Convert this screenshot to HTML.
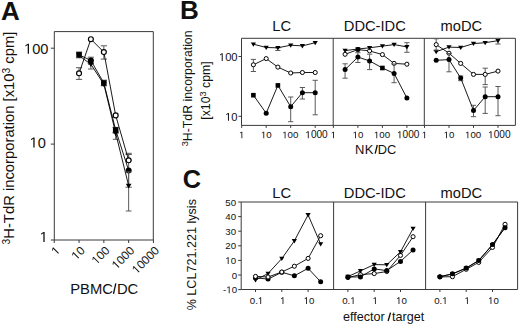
<!DOCTYPE html>
<html><head><meta charset="utf-8"><style>
html,body{margin:0;padding:0;background:#fff;}
svg{display:block;}
text{font-family:"Liberation Sans",sans-serif;fill:#111;}
</style></head><body>
<svg width="520" height="326" viewBox="0 0 520 326">
<rect width="520" height="326" fill="#fff"/>
<path d="M54.3,31.6H153.3V240.0H54.3Z" stroke="#3a3a3a" stroke-width="1" fill="none"/>
<path d="M50.8,240.00H54.3" stroke="#3a3a3a" stroke-width="1"/>
<path d="M515,0L696,0L696,1409L530,1409L197,1180L197,1010L515,1237Z" transform="translate(39.68,242.00) scale(0.007129,-0.007129)" fill="#111"/>
<path d="M50.8,144.10H54.3" stroke="#3a3a3a" stroke-width="1"/>
<path d="M515,0L696,0L696,1409L530,1409L197,1180L197,1010L515,1237Z" transform="translate(29.66,147.50) scale(0.007129,-0.007129)" fill="#111"/><text x="37.78" y="147.50" font-size="14.6">0</text>
<path d="M50.8,48.20H54.3" stroke="#3a3a3a" stroke-width="1"/>
<path d="M515,0L696,0L696,1409L530,1409L197,1180L197,1010L515,1237Z" transform="translate(24.04,53.70) scale(0.007129,-0.007129)" fill="#111"/><text x="32.16" y="53.70" font-size="14.6">00</text>
<path d="M54.25,240.0V243.0" stroke="#3a3a3a" stroke-width="1"/>
<g transform="translate(60.75,251.3) rotate(-45)"><path d="M515,0L696,0L696,1409L530,1409L197,1180L197,1010L515,1237Z" transform="translate(-6.56,0.00) scale(0.005762,-0.005762)" fill="#111"/></g>
<path d="M79.05,240.0V243.0" stroke="#3a3a3a" stroke-width="1"/>
<g transform="translate(85.55,251.3) rotate(-45)"><path d="M515,0L696,0L696,1409L530,1409L197,1180L197,1010L515,1237Z" transform="translate(-13.13,0.00) scale(0.005762,-0.005762)" fill="#111"/><text x="-6.56" y="0.00" font-size="11.8">0</text></g>
<path d="M103.85,240.0V243.0" stroke="#3a3a3a" stroke-width="1"/>
<g transform="translate(110.35,251.3) rotate(-45)"><path d="M515,0L696,0L696,1409L530,1409L197,1180L197,1010L515,1237Z" transform="translate(-19.69,0.00) scale(0.005762,-0.005762)" fill="#111"/><text x="-13.13" y="0.00" font-size="11.8">00</text></g>
<path d="M128.65,240.0V243.0" stroke="#3a3a3a" stroke-width="1"/>
<g transform="translate(135.15,251.3) rotate(-45)"><path d="M515,0L696,0L696,1409L530,1409L197,1180L197,1010L515,1237Z" transform="translate(-26.25,0.00) scale(0.005762,-0.005762)" fill="#111"/><text x="-19.69" y="0.00" font-size="11.8">000</text></g>
<path d="M153.45,240.0V243.0" stroke="#3a3a3a" stroke-width="1"/>
<g transform="translate(159.95,251.3) rotate(-45)"><path d="M515,0L696,0L696,1409L530,1409L197,1180L197,1010L515,1237Z" transform="translate(-32.81,0.00) scale(0.005762,-0.005762)" fill="#111"/><text x="-26.25" y="0.00" font-size="11.8">0000</text></g>
<text x="70.2" y="294.3" font-size="14.8">PBMC</text><text x="138.3" y="294.3" font-size="14.8" text-anchor="end">DC</text><path d="M113.5,293.8L115.8,283.4" stroke="#111" stroke-width="1.35" stroke-linecap="butt"/>
<text x="0" y="0" font-size="14.8" text-anchor="middle" transform="translate(14.3,138) rotate(-90)"><tspan font-size="10.2" dy="-4.6">3</tspan><tspan dy="4.6">H-TdR incorporation [x10</tspan><tspan font-size="10.2" dy="-4.6">3</tspan><tspan dy="4.6"> cpm]</tspan></text>
<path d="M79.05,52.00V57.80M75.93,52.00H82.17M75.93,57.80H82.17" stroke="#5a5a5a" stroke-width="1" fill="none"/>
<path d="M90.88,57.20V63.50M87.76,57.20H94.00M87.76,63.50H94.00" stroke="#5a5a5a" stroke-width="1" fill="none"/>
<path d="M103.85,80.20V85.80M100.73,80.20H106.97M100.73,85.80H106.97" stroke="#5a5a5a" stroke-width="1" fill="none"/>
<path d="M115.68,127.40V132.60M112.56,127.40H118.80M112.56,132.60H118.80" stroke="#5a5a5a" stroke-width="1" fill="none"/>
<path d="M128.65,154.50V187.20M125.53,154.50H131.77M125.53,187.20H131.77" stroke="#5a5a5a" stroke-width="1" fill="none"/>
<path d="M79.05,54.80L90.88,60.50L103.85,83.00L115.68,130.00L128.65,170.40" stroke="#000" stroke-width="0.90" fill="none"/>
<rect x="76.29" y="52.04" width="5.52" height="5.52" fill="#000"/>
<circle cx="90.88" cy="60.50" r="3.00" fill="#000"/>
<rect x="101.09" y="80.24" width="5.52" height="5.52" fill="#000"/>
<rect x="112.92" y="127.24" width="5.52" height="5.52" fill="#000"/>
<circle cx="128.65" cy="170.40" r="3.00" fill="#000"/>
<path d="M90.88,64.30V69.00M88.02,64.30H93.74M88.02,69.00H93.74" stroke="#5a5a5a" stroke-width="1" fill="none"/>
<path d="M115.68,133.20V139.30M112.82,133.20H118.54M112.82,139.30H118.54" stroke="#5a5a5a" stroke-width="1" fill="none"/>
<path d="M128.65,172.00V211.00M125.79,172.00H131.51M125.79,211.00H131.51" stroke="#5a5a5a" stroke-width="1" fill="none"/>
<path d="M79.05,55.60L90.88,64.30L103.85,84.20L115.68,133.20L128.65,185.70" stroke="#000" stroke-width="0.90" fill="none"/>
<path d="M76.19,53.62L81.91,53.62L79.05,58.35Z" fill="#000"/>
<path d="M88.02,62.32L93.74,62.32L90.88,67.05Z" fill="#000"/>
<path d="M100.99,82.22L106.71,82.22L103.85,86.95Z" fill="#000"/>
<path d="M112.82,131.22L118.54,131.22L115.68,135.95Z" fill="#000"/>
<path d="M125.79,183.72L131.51,183.72L128.65,188.45Z" fill="#000"/>
<path d="M79.05,67.70V79.40M75.93,67.70H82.17M75.93,79.40H82.17" stroke="#5a5a5a" stroke-width="1" fill="none"/>
<path d="M103.85,45.80V59.10M100.73,45.80H106.97M100.73,59.10H106.97" stroke="#5a5a5a" stroke-width="1" fill="none"/>
<path d="M128.65,153.30V160.30M125.53,153.30H131.77M125.53,160.30H131.77" stroke="#5a5a5a" stroke-width="1" fill="none"/>
<path d="M79.05,73.30L90.88,39.20L103.85,52.10L115.68,115.40L128.65,160.30" stroke="#000" stroke-width="0.90" fill="none"/>
<circle cx="79.05" cy="73.30" r="2.46" fill="#fff" stroke="#000" stroke-width="1.20"/>
<circle cx="90.88" cy="39.20" r="2.46" fill="#fff" stroke="#000" stroke-width="1.20"/>
<circle cx="103.85" cy="52.10" r="2.46" fill="#fff" stroke="#000" stroke-width="1.20"/>
<circle cx="115.68" cy="115.40" r="2.46" fill="#fff" stroke="#000" stroke-width="1.20"/>
<circle cx="128.65" cy="160.30" r="2.46" fill="#fff" stroke="#000" stroke-width="1.20"/>
<path d="M241.5,38.3H515.4V125.4H241.5Z" stroke="#3a3a3a" stroke-width="1" fill="none"/>
<path d="M333.2,38.3V125.4" stroke="#3a3a3a" stroke-width="1"/>
<path d="M424.3,38.3V125.4" stroke="#3a3a3a" stroke-width="1"/>
<path d="M238.5,116.30H241.5" stroke="#3a3a3a" stroke-width="1"/>
<path d="M515,0L696,0L696,1409L530,1409L197,1180L197,1010L515,1237Z" transform="translate(225.14,120.80) scale(0.005469,-0.005469)" fill="#111"/><text x="231.37" y="120.80" font-size="11.2">0</text>
<path d="M238.5,56.50H241.5" stroke="#3a3a3a" stroke-width="1"/>
<path d="M515,0L696,0L696,1409L530,1409L197,1180L197,1010L515,1237Z" transform="translate(218.91,61.00) scale(0.005469,-0.005469)" fill="#111"/><text x="225.14" y="61.00" font-size="11.2">00</text>
<path d="M241.70,125.4V127.9" stroke="#3a3a3a" stroke-width="1"/>
<path d="M515,0L696,0L696,1409L530,1409L197,1180L197,1010L515,1237Z" transform="translate(239.00,138.30) scale(0.004736,-0.004736)" fill="#111"/>
<path d="M266.20,125.4V127.9" stroke="#3a3a3a" stroke-width="1"/>
<path d="M515,0L696,0L696,1409L530,1409L197,1180L197,1010L515,1237Z" transform="translate(260.91,138.30) scale(0.004736,-0.004736)" fill="#111"/><text x="266.30" y="138.30" font-size="9.7">0</text>
<path d="M290.70,125.4V127.9" stroke="#3a3a3a" stroke-width="1"/>
<path d="M515,0L696,0L696,1409L530,1409L197,1180L197,1010L515,1237Z" transform="translate(282.21,138.30) scale(0.004736,-0.004736)" fill="#111"/><text x="287.60" y="138.30" font-size="9.7">00</text>
<path d="M315.20,125.4V127.9" stroke="#3a3a3a" stroke-width="1"/>
<path d="M515,0L696,0L696,1409L530,1409L197,1180L197,1010L515,1237Z" transform="translate(305.27,138.30) scale(0.004932,-0.004932)" fill="#111"/><text x="310.88" y="138.30" font-size="10.1">000</text>
<text x="281.7" y="31.1" font-size="14.7" text-anchor="middle">LC</text>
<path d="M333.40,125.4V127.9" stroke="#3a3a3a" stroke-width="1"/>
<path d="M515,0L696,0L696,1409L530,1409L197,1180L197,1010L515,1237Z" transform="translate(330.70,138.30) scale(0.004736,-0.004736)" fill="#111"/>
<path d="M357.90,125.4V127.9" stroke="#3a3a3a" stroke-width="1"/>
<path d="M515,0L696,0L696,1409L530,1409L197,1180L197,1010L515,1237Z" transform="translate(352.61,138.30) scale(0.004736,-0.004736)" fill="#111"/><text x="358.00" y="138.30" font-size="9.7">0</text>
<path d="M382.40,125.4V127.9" stroke="#3a3a3a" stroke-width="1"/>
<path d="M515,0L696,0L696,1409L530,1409L197,1180L197,1010L515,1237Z" transform="translate(373.91,138.30) scale(0.004736,-0.004736)" fill="#111"/><text x="379.30" y="138.30" font-size="9.7">00</text>
<path d="M406.90,125.4V127.9" stroke="#3a3a3a" stroke-width="1"/>
<path d="M515,0L696,0L696,1409L530,1409L197,1180L197,1010L515,1237Z" transform="translate(396.97,138.30) scale(0.004932,-0.004932)" fill="#111"/><text x="402.58" y="138.30" font-size="10.1">000</text>
<text x="374.8" y="31.1" font-size="14.7" text-anchor="middle">DDC-IDC</text>
<path d="M424.50,125.4V127.9" stroke="#3a3a3a" stroke-width="1"/>
<path d="M515,0L696,0L696,1409L530,1409L197,1180L197,1010L515,1237Z" transform="translate(421.80,138.30) scale(0.004736,-0.004736)" fill="#111"/>
<path d="M449.00,125.4V127.9" stroke="#3a3a3a" stroke-width="1"/>
<path d="M515,0L696,0L696,1409L530,1409L197,1180L197,1010L515,1237Z" transform="translate(443.71,138.30) scale(0.004736,-0.004736)" fill="#111"/><text x="449.10" y="138.30" font-size="9.7">0</text>
<path d="M473.50,125.4V127.9" stroke="#3a3a3a" stroke-width="1"/>
<path d="M515,0L696,0L696,1409L530,1409L197,1180L197,1010L515,1237Z" transform="translate(465.01,138.30) scale(0.004736,-0.004736)" fill="#111"/><text x="470.40" y="138.30" font-size="9.7">00</text>
<path d="M498.00,125.4V127.9" stroke="#3a3a3a" stroke-width="1"/>
<path d="M515,0L696,0L696,1409L530,1409L197,1180L197,1010L515,1237Z" transform="translate(488.07,138.30) scale(0.004932,-0.004932)" fill="#111"/><text x="493.68" y="138.30" font-size="10.1">000</text>
<text x="461.3" y="31.1" font-size="14.7" text-anchor="middle">moDC</text>
<text x="355.0" y="153.6" font-size="13" letter-spacing="0.4">NK</text><text x="396.3" y="153.6" font-size="12.8" text-anchor="end">DC</text><path d="M375.2,153.6L377.3,145.0" stroke="#111" stroke-width="1.35" stroke-linecap="butt"/>
<text x="0" y="0" font-size="12.3" text-anchor="middle" transform="translate(191.6,88.4) rotate(-90)"><tspan font-size="9.3" dy="-4">3</tspan><tspan dy="4">H-TdR incorporation</tspan></text>
<text x="0" y="0" font-size="12.3" text-anchor="middle" transform="translate(209.6,90.5) rotate(-90)">[x10<tspan font-size="9.3" dy="-4">3</tspan><tspan dy="4"> cpm]</tspan></text>
<path d="M277.89,47.80V50.50M275.29,47.80H280.49M275.29,50.50H280.49" stroke="#5a5a5a" stroke-width="1" fill="none"/>
<path d="M253.39,44.20L266.20,47.50L277.89,47.80L290.70,45.20L302.39,45.90L315.20,42.70" stroke="#000" stroke-width="0.90" fill="none"/>
<path d="M250.79,42.40L255.99,42.40L253.39,46.70Z" fill="#000"/>
<path d="M263.60,45.70L268.80,45.70L266.20,50.00Z" fill="#000"/>
<path d="M275.29,46.00L280.49,46.00L277.89,50.30Z" fill="#000"/>
<path d="M288.10,43.40L293.30,43.40L290.70,47.70Z" fill="#000"/>
<path d="M299.79,44.10L304.99,44.10L302.39,48.40Z" fill="#000"/>
<path d="M312.60,40.90L317.80,40.90L315.20,45.20Z" fill="#000"/>
<path d="M253.39,59.40V71.50M250.79,59.40H255.99M250.79,71.50H255.99" stroke="#5a5a5a" stroke-width="1" fill="none"/>
<path d="M253.39,64.80L266.20,58.60L277.89,67.10L290.70,73.00L302.39,72.50L315.20,72.50" stroke="#000" stroke-width="0.90" fill="none"/>
<circle cx="253.39" cy="64.80" r="2.05" fill="#fff" stroke="#000" stroke-width="1.00"/>
<circle cx="266.20" cy="58.60" r="2.05" fill="#fff" stroke="#000" stroke-width="1.00"/>
<circle cx="277.89" cy="67.10" r="2.05" fill="#fff" stroke="#000" stroke-width="1.00"/>
<circle cx="290.70" cy="73.00" r="2.05" fill="#fff" stroke="#000" stroke-width="1.00"/>
<circle cx="302.39" cy="72.50" r="2.05" fill="#fff" stroke="#000" stroke-width="1.00"/>
<circle cx="315.20" cy="72.50" r="2.05" fill="#fff" stroke="#000" stroke-width="1.00"/>
<path d="M290.70,97.00V121.70M288.10,97.00H293.30M288.10,121.70H293.30" stroke="#5a5a5a" stroke-width="1" fill="none"/>
<path d="M302.39,87.50V99.00M299.79,87.50H304.99M299.79,99.00H304.99" stroke="#5a5a5a" stroke-width="1" fill="none"/>
<path d="M315.20,80.30V114.80M312.60,80.30H317.80M312.60,114.80H317.80" stroke="#5a5a5a" stroke-width="1" fill="none"/>
<path d="M253.39,95.20L266.20,113.20L277.89,85.40L290.70,106.70L302.39,92.70L315.20,92.70" stroke="#000" stroke-width="0.90" fill="none"/>
<rect x="251.09" y="92.90" width="4.60" height="4.60" fill="#000"/>
<circle cx="266.20" cy="113.20" r="2.50" fill="#000"/>
<rect x="275.59" y="83.10" width="4.60" height="4.60" fill="#000"/>
<circle cx="290.70" cy="106.70" r="2.50" fill="#000"/>
<circle cx="302.39" cy="92.70" r="2.50" fill="#000"/>
<circle cx="315.20" cy="92.70" r="2.50" fill="#000"/>
<path d="M345.09,54.30L357.90,49.60L369.59,50.90L382.40,54.60L394.09,63.40L406.90,64.20" stroke="#000" stroke-width="0.90" fill="none"/>
<circle cx="345.09" cy="54.30" r="2.05" fill="#fff" stroke="#000" stroke-width="1.00"/>
<circle cx="357.90" cy="49.60" r="2.50" fill="#000"/>
<circle cx="369.59" cy="50.90" r="2.05" fill="#fff" stroke="#000" stroke-width="1.00"/>
<circle cx="382.40" cy="54.60" r="2.05" fill="#fff" stroke="#000" stroke-width="1.00"/>
<circle cx="394.09" cy="63.40" r="2.05" fill="#fff" stroke="#000" stroke-width="1.00"/>
<circle cx="406.90" cy="64.20" r="2.05" fill="#fff" stroke="#000" stroke-width="1.00"/>
<path d="M406.90,42.70V52.30M404.30,42.70H409.50M404.30,52.30H409.50" stroke="#5a5a5a" stroke-width="1" fill="none"/>
<path d="M345.09,50.60L357.90,49.00L369.59,47.80L382.40,46.10L394.09,44.60L406.90,46.90" stroke="#000" stroke-width="0.90" fill="none"/>
<path d="M342.49,48.80L347.69,48.80L345.09,53.10Z" fill="#000"/>
<path d="M355.30,47.20L360.50,47.20L357.90,51.50Z" fill="#000"/>
<path d="M366.99,46.00L372.19,46.00L369.59,50.30Z" fill="#000"/>
<path d="M379.80,44.30L385.00,44.30L382.40,48.60Z" fill="#000"/>
<path d="M391.49,42.80L396.69,42.80L394.09,47.10Z" fill="#000"/>
<path d="M404.30,45.10L409.50,45.10L406.90,49.40Z" fill="#000"/>
<path d="M345.09,63.80V78.20M342.49,63.80H347.69M342.49,78.20H347.69" stroke="#5a5a5a" stroke-width="1" fill="none"/>
<path d="M357.90,52.70V62.50M355.30,52.70H360.50M355.30,62.50H360.50" stroke="#5a5a5a" stroke-width="1" fill="none"/>
<path d="M369.59,54.20V69.60M366.99,54.20H372.19M366.99,69.60H372.19" stroke="#5a5a5a" stroke-width="1" fill="none"/>
<path d="M394.09,64.00V82.70M391.49,64.00H396.69M391.49,82.70H396.69" stroke="#5a5a5a" stroke-width="1" fill="none"/>
<path d="M345.09,69.60L357.90,57.10L369.59,60.90L382.40,68.00L394.09,73.40L406.90,98.00" stroke="#000" stroke-width="0.90" fill="none"/>
<circle cx="345.09" cy="69.60" r="2.50" fill="#000"/>
<circle cx="357.90" cy="57.10" r="2.50" fill="#000"/>
<circle cx="369.59" cy="60.90" r="2.50" fill="#000"/>
<rect x="380.10" y="65.70" width="4.60" height="4.60" fill="#000"/>
<circle cx="394.09" cy="73.40" r="2.50" fill="#000"/>
<circle cx="406.90" cy="98.00" r="2.50" fill="#000"/>
<path d="M498.00,38.50V44.00M495.40,38.50H500.60M495.40,44.00H500.60" stroke="#5a5a5a" stroke-width="1" fill="none"/>
<path d="M436.19,51.70L449.00,47.10L460.69,47.50L473.50,43.60L485.19,42.70L498.00,40.70" stroke="#000" stroke-width="0.90" fill="none"/>
<path d="M433.59,49.90L438.79,49.90L436.19,54.20Z" fill="#000"/>
<path d="M446.40,45.30L451.60,45.30L449.00,49.60Z" fill="#000"/>
<path d="M458.09,45.70L463.29,45.70L460.69,50.00Z" fill="#000"/>
<path d="M470.90,41.80L476.10,41.80L473.50,46.10Z" fill="#000"/>
<path d="M482.59,40.90L487.79,40.90L485.19,45.20Z" fill="#000"/>
<path d="M495.40,38.90L500.60,38.90L498.00,43.20Z" fill="#000"/>
<path d="M436.19,38.80V50.00M433.59,38.80H438.79M433.59,50.00H438.79" stroke="#5a5a5a" stroke-width="1" fill="none"/>
<path d="M485.19,68.20V84.60M482.59,68.20H487.79M482.59,84.60H487.79" stroke="#5a5a5a" stroke-width="1" fill="none"/>
<path d="M436.19,44.60L449.00,53.20L460.69,63.40L473.50,74.40L485.19,74.40L498.00,71.10" stroke="#000" stroke-width="0.90" fill="none"/>
<circle cx="436.19" cy="44.60" r="2.05" fill="#fff" stroke="#000" stroke-width="1.00"/>
<circle cx="449.00" cy="53.20" r="2.05" fill="#fff" stroke="#000" stroke-width="1.00"/>
<circle cx="460.69" cy="63.40" r="2.05" fill="#fff" stroke="#000" stroke-width="1.00"/>
<circle cx="473.50" cy="74.40" r="2.05" fill="#fff" stroke="#000" stroke-width="1.00"/>
<circle cx="485.19" cy="74.40" r="2.05" fill="#fff" stroke="#000" stroke-width="1.00"/>
<circle cx="498.00" cy="71.10" r="2.05" fill="#fff" stroke="#000" stroke-width="1.00"/>
<path d="M449.00,53.50V71.80M446.40,53.50H451.60M446.40,71.80H451.60" stroke="#5a5a5a" stroke-width="1" fill="none"/>
<path d="M460.69,76.00V80.70M458.09,76.00H463.29M458.09,80.70H463.29" stroke="#5a5a5a" stroke-width="1" fill="none"/>
<path d="M473.50,105.30V116.70M470.90,105.30H476.10M470.90,116.70H476.10" stroke="#5a5a5a" stroke-width="1" fill="none"/>
<path d="M485.19,87.00V113.40M482.59,87.00H487.79M482.59,113.40H487.79" stroke="#5a5a5a" stroke-width="1" fill="none"/>
<path d="M498.00,86.50V115.70M495.40,86.50H500.60M495.40,115.70H500.60" stroke="#5a5a5a" stroke-width="1" fill="none"/>
<path d="M436.19,60.30L449.00,59.60L460.69,78.00L473.50,110.50L485.19,96.70L498.00,96.70" stroke="#000" stroke-width="0.90" fill="none"/>
<circle cx="436.19" cy="60.30" r="2.50" fill="#000"/>
<circle cx="449.00" cy="59.60" r="2.50" fill="#000"/>
<circle cx="460.69" cy="78.00" r="2.50" fill="#000"/>
<circle cx="473.50" cy="110.50" r="2.50" fill="#000"/>
<circle cx="485.19" cy="96.70" r="2.50" fill="#000"/>
<circle cx="498.00" cy="96.70" r="2.50" fill="#000"/>
<path d="M241.2,202.0H517.6V289.5H241.2Z" stroke="#3a3a3a" stroke-width="1" fill="none"/>
<path d="M333.6,202.0V289.5" stroke="#3a3a3a" stroke-width="1"/>
<path d="M425.6,202.0V289.5" stroke="#3a3a3a" stroke-width="1"/>
<path d="M238.2,202.00H241.2" stroke="#3a3a3a" stroke-width="1"/>
<text x="225.31" y="205.60" font-size="9.7">50</text>
<path d="M238.2,216.60H241.2" stroke="#3a3a3a" stroke-width="1"/>
<text x="225.31" y="220.20" font-size="9.7">40</text>
<path d="M238.2,231.20H241.2" stroke="#3a3a3a" stroke-width="1"/>
<text x="225.31" y="234.80" font-size="9.7">30</text>
<path d="M238.2,245.80H241.2" stroke="#3a3a3a" stroke-width="1"/>
<text x="225.31" y="249.40" font-size="9.7">20</text>
<path d="M238.2,260.40H241.2" stroke="#3a3a3a" stroke-width="1"/>
<path d="M515,0L696,0L696,1409L530,1409L197,1180L197,1010L515,1237Z" transform="translate(225.31,264.00) scale(0.004736,-0.004736)" fill="#111"/><text x="230.71" y="264.00" font-size="9.7">0</text>
<path d="M238.2,275.00H241.2" stroke="#3a3a3a" stroke-width="1"/>
<text x="231.71" y="278.60" font-size="9.7">0</text>
<path d="M238.2,289.60H241.2" stroke="#3a3a3a" stroke-width="1"/>
<text x="223.08" y="293.20" font-size="9.7">-</text><path d="M515,0L696,0L696,1409L530,1409L197,1180L197,1010L515,1237Z" transform="translate(226.31,293.20) scale(0.004736,-0.004736)" fill="#111"/><text x="231.71" y="293.20" font-size="9.7">0</text>
<path d="M255.50,289.5V292.0" stroke="#3a3a3a" stroke-width="1"/>
<text x="249.76" y="304.00" font-size="9.7">0.</text><path d="M515,0L696,0L696,1409L530,1409L197,1180L197,1010L515,1237Z" transform="translate(257.85,304.00) scale(0.004736,-0.004736)" fill="#111"/>
<path d="M281.80,289.5V292.0" stroke="#3a3a3a" stroke-width="1"/>
<path d="M515,0L696,0L696,1409L530,1409L197,1180L197,1010L515,1237Z" transform="translate(280.10,304.00) scale(0.004736,-0.004736)" fill="#111"/>
<path d="M308.10,289.5V292.0" stroke="#3a3a3a" stroke-width="1"/>
<path d="M515,0L696,0L696,1409L530,1409L197,1180L197,1010L515,1237Z" transform="translate(303.71,304.00) scale(0.004736,-0.004736)" fill="#111"/><text x="309.10" y="304.00" font-size="9.7">0</text>
<text x="281.7" y="197.6" font-size="14.7" text-anchor="middle">LC</text>
<path d="M347.90,289.5V292.0" stroke="#3a3a3a" stroke-width="1"/>
<text x="342.16" y="304.00" font-size="9.7">0.</text><path d="M515,0L696,0L696,1409L530,1409L197,1180L197,1010L515,1237Z" transform="translate(350.25,304.00) scale(0.004736,-0.004736)" fill="#111"/>
<path d="M374.20,289.5V292.0" stroke="#3a3a3a" stroke-width="1"/>
<path d="M515,0L696,0L696,1409L530,1409L197,1180L197,1010L515,1237Z" transform="translate(372.50,304.00) scale(0.004736,-0.004736)" fill="#111"/>
<path d="M400.50,289.5V292.0" stroke="#3a3a3a" stroke-width="1"/>
<path d="M515,0L696,0L696,1409L530,1409L197,1180L197,1010L515,1237Z" transform="translate(396.11,304.00) scale(0.004736,-0.004736)" fill="#111"/><text x="401.50" y="304.00" font-size="9.7">0</text>
<text x="374.8" y="197.6" font-size="14.7" text-anchor="middle">DDC-IDC</text>
<path d="M439.90,289.5V292.0" stroke="#3a3a3a" stroke-width="1"/>
<text x="434.16" y="304.00" font-size="9.7">0.</text><path d="M515,0L696,0L696,1409L530,1409L197,1180L197,1010L515,1237Z" transform="translate(442.25,304.00) scale(0.004736,-0.004736)" fill="#111"/>
<path d="M466.20,289.5V292.0" stroke="#3a3a3a" stroke-width="1"/>
<path d="M515,0L696,0L696,1409L530,1409L197,1180L197,1010L515,1237Z" transform="translate(464.50,304.00) scale(0.004736,-0.004736)" fill="#111"/>
<path d="M492.50,289.5V292.0" stroke="#3a3a3a" stroke-width="1"/>
<path d="M515,0L696,0L696,1409L530,1409L197,1180L197,1010L515,1237Z" transform="translate(488.11,304.00) scale(0.004736,-0.004736)" fill="#111"/><text x="493.50" y="304.00" font-size="9.7">0</text>
<text x="461.3" y="197.6" font-size="14.7" text-anchor="middle">moDC</text>
<text x="342.9" y="320.9" font-size="12.6">effector</text><text x="424.3" y="320.9" font-size="12.6" text-anchor="end">target</text><path d="M388.1,321.0L390.5,312.6" stroke="#111" stroke-width="1.35" stroke-linecap="butt"/>
<text x="0" y="0" font-size="12.6" text-anchor="middle" transform="translate(195.6,254.7) rotate(-90)">% LCL721.221 lysis</text>
<path d="M255.50,277.80L268.05,279.10L281.80,272.30L294.35,275.80L308.10,268.30L320.65,281.80" stroke="#000" stroke-width="0.90" fill="none"/>
<circle cx="255.50" cy="277.80" r="2.50" fill="#000"/>
<circle cx="268.05" cy="279.10" r="2.50" fill="#000"/>
<circle cx="281.80" cy="272.30" r="2.50" fill="#000"/>
<circle cx="294.35" cy="275.80" r="2.50" fill="#000"/>
<circle cx="308.10" cy="268.30" r="2.50" fill="#000"/>
<circle cx="320.65" cy="281.80" r="2.50" fill="#000"/>
<path d="M255.50,280.00L268.05,273.50L281.80,258.60L294.35,240.90L308.10,214.90L320.65,244.00" stroke="#000" stroke-width="0.90" fill="none"/>
<path d="M252.90,278.20L258.10,278.20L255.50,282.50Z" fill="#000"/>
<path d="M265.45,271.70L270.65,271.70L268.05,276.00Z" fill="#000"/>
<path d="M279.20,256.80L284.40,256.80L281.80,261.10Z" fill="#000"/>
<path d="M291.75,239.10L296.95,239.10L294.35,243.40Z" fill="#000"/>
<path d="M305.50,213.10L310.70,213.10L308.10,217.40Z" fill="#000"/>
<path d="M318.05,242.20L323.25,242.20L320.65,246.50Z" fill="#000"/>
<path d="M255.50,276.40L268.05,277.00L281.80,272.00L294.35,266.20L308.10,258.40L320.65,235.70" stroke="#000" stroke-width="0.90" fill="none"/>
<circle cx="255.50" cy="276.40" r="2.05" fill="#fff" stroke="#000" stroke-width="1.00"/>
<circle cx="268.05" cy="277.00" r="2.05" fill="#fff" stroke="#000" stroke-width="1.00"/>
<circle cx="281.80" cy="272.00" r="2.05" fill="#fff" stroke="#000" stroke-width="1.00"/>
<circle cx="294.35" cy="266.20" r="2.05" fill="#fff" stroke="#000" stroke-width="1.00"/>
<circle cx="308.10" cy="258.40" r="2.05" fill="#fff" stroke="#000" stroke-width="1.00"/>
<circle cx="320.65" cy="235.70" r="2.05" fill="#fff" stroke="#000" stroke-width="1.00"/>
<path d="M347.90,277.60L360.45,274.60L374.20,273.60L386.75,271.50L400.50,255.40L413.05,236.70" stroke="#000" stroke-width="0.90" fill="none"/>
<circle cx="347.90" cy="277.60" r="2.05" fill="#fff" stroke="#000" stroke-width="1.00"/>
<circle cx="360.45" cy="274.60" r="2.05" fill="#fff" stroke="#000" stroke-width="1.00"/>
<circle cx="374.20" cy="273.60" r="2.05" fill="#fff" stroke="#000" stroke-width="1.00"/>
<circle cx="386.75" cy="271.50" r="2.05" fill="#fff" stroke="#000" stroke-width="1.00"/>
<circle cx="400.50" cy="255.40" r="2.05" fill="#fff" stroke="#000" stroke-width="1.00"/>
<circle cx="413.05" cy="236.70" r="2.05" fill="#fff" stroke="#000" stroke-width="1.00"/>
<path d="M347.90,277.00L360.45,276.90L374.20,268.90L386.75,270.60L400.50,261.40L413.05,250.00" stroke="#000" stroke-width="0.90" fill="none"/>
<circle cx="347.90" cy="277.00" r="2.50" fill="#000"/>
<circle cx="360.45" cy="276.90" r="2.50" fill="#000"/>
<circle cx="374.20" cy="268.90" r="2.50" fill="#000"/>
<circle cx="386.75" cy="270.60" r="2.50" fill="#000"/>
<circle cx="400.50" cy="261.40" r="2.50" fill="#000"/>
<circle cx="413.05" cy="250.00" r="2.50" fill="#000"/>
<path d="M347.90,276.60L360.45,270.90L374.20,264.60L386.75,264.80L400.50,251.80L413.05,228.60" stroke="#000" stroke-width="0.90" fill="none"/>
<path d="M345.30,274.80L350.50,274.80L347.90,279.10Z" fill="#000"/>
<path d="M357.85,269.10L363.05,269.10L360.45,273.40Z" fill="#000"/>
<path d="M371.60,262.80L376.80,262.80L374.20,267.10Z" fill="#000"/>
<path d="M384.15,263.00L389.35,263.00L386.75,267.30Z" fill="#000"/>
<path d="M397.90,250.00L403.10,250.00L400.50,254.30Z" fill="#000"/>
<path d="M410.45,226.80L415.65,226.80L413.05,231.10Z" fill="#000"/>
<path d="M439.90,276.70L452.45,274.00L466.20,268.20L478.75,260.60L492.50,244.80L505.05,227.50" stroke="#000" stroke-width="0.90" fill="none"/>
<path d="M437.30,274.90L442.50,274.90L439.90,279.20Z" fill="#000"/>
<path d="M449.85,272.20L455.05,272.20L452.45,276.50Z" fill="#000"/>
<path d="M463.60,266.40L468.80,266.40L466.20,270.70Z" fill="#000"/>
<path d="M476.15,258.80L481.35,258.80L478.75,263.10Z" fill="#000"/>
<path d="M489.90,243.00L495.10,243.00L492.50,247.30Z" fill="#000"/>
<path d="M502.45,225.70L507.65,225.70L505.05,230.00Z" fill="#000"/>
<path d="M439.90,276.90L452.45,276.70L466.20,269.30L478.75,262.40L492.50,247.40L505.05,224.30" stroke="#000" stroke-width="0.90" fill="none"/>
<circle cx="439.90" cy="276.90" r="2.05" fill="#fff" stroke="#000" stroke-width="1.00"/>
<circle cx="452.45" cy="276.70" r="2.05" fill="#fff" stroke="#000" stroke-width="1.00"/>
<circle cx="466.20" cy="269.30" r="2.05" fill="#fff" stroke="#000" stroke-width="1.00"/>
<circle cx="478.75" cy="262.40" r="2.05" fill="#fff" stroke="#000" stroke-width="1.00"/>
<circle cx="492.50" cy="247.40" r="2.05" fill="#fff" stroke="#000" stroke-width="1.00"/>
<circle cx="505.05" cy="224.30" r="2.05" fill="#fff" stroke="#000" stroke-width="1.00"/>
<path d="M439.90,276.70L452.45,273.80L466.20,268.00L478.75,260.40L492.50,244.50L505.05,227.80" stroke="#000" stroke-width="0.90" fill="none"/>
<circle cx="439.90" cy="276.70" r="2.50" fill="#000"/>
<circle cx="452.45" cy="273.80" r="2.50" fill="#000"/>
<circle cx="466.20" cy="268.00" r="2.50" fill="#000"/>
<circle cx="478.75" cy="260.40" r="2.50" fill="#000"/>
<circle cx="492.50" cy="244.50" r="2.50" fill="#000"/>
<circle cx="505.05" cy="227.80" r="2.50" fill="#000"/>
<text x="1.0" y="19.8" font-size="26" font-weight="bold">A</text>
<text x="180.0" y="19.2" font-size="26" font-weight="bold">B</text>
<text x="182.8" y="188.2" font-size="25.3" font-weight="bold">C</text>
</svg>
</body></html>
